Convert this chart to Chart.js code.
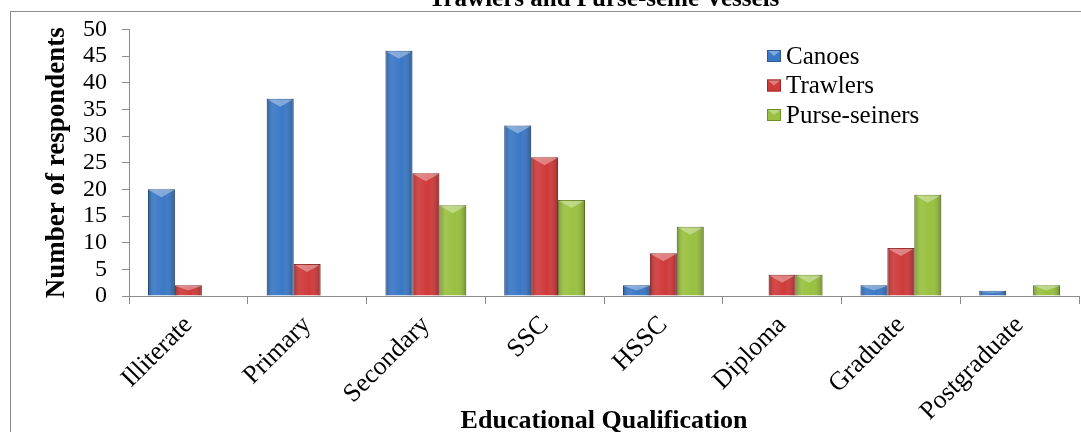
<!DOCTYPE html>
<html>
<head>
<meta charset="utf-8">
<script src="https://cdn.jsdelivr.net/npm/chart.js@4.4.1/dist/chart.umd.min.js"></script>
<style>
  html, body { margin: 0; padding: 0; background: #fff; overflow: hidden; }
  #frame { position: absolute; left: 10px; top: 11px; width: 1100px; height: 460px; border: 1px solid #8c8c8c; }
  #chart { position: absolute; left: 0; top: 0; }
</style>
</head>
<body>
<div id="frame"></div>
<canvas id="chart" width="1081" height="432"></canvas>
<script>
// values
const categories = ["Illiterate", "Primary", "Secondary", "SSC", "HSSC", "Diploma", "Graduate", "Postgraduate"];
const canoes = [20, 37, 46, 32, 2, 0, 2, 1];
const trawlers = [2, 6, 23, 26, 8, 4, 9, 0];
const purseSeiners = [0, 0, 17, 18, 13, 4, 19, 2];
const yTicks = [0, 5, 10, 15, 20, 25, 30, 35, 40, 45, 50];

const serif = "'Liberation Serif', 'Times New Roman', serif";
const axisGrey = "#8c8c8c";

// bevelled look of the bars (shading drawn over each bar element)
const bevelPlugin = {
  id: "bevel",
  afterDatasetsDraw(chart) {
    const ctx = chart.ctx;
    chart.data.datasets.forEach((ds, i) => {
      const meta = chart.getDatasetMeta(i);
      meta.data.forEach((bar) => {
        const { x, y, base, width } = bar.getProps(["x", "y", "base", "width"], true);
        const h = base - y;
        if (h < 1) return;
        const left = x - width / 2;
        const right = x + width / 2;
        ctx.save();
        let g = ctx.createLinearGradient(left, 0, right, 0);
        g.addColorStop(0, "rgba(0,0,0,0.22)");
        g.addColorStop(0.25, "rgba(255,255,255,0.08)");
        g.addColorStop(0.6, "rgba(255,255,255,0)");
        g.addColorStop(1, "rgba(0,0,0,0.25)");
        ctx.fillStyle = g;
        ctx.fillRect(left, y, width, h);
        const t = Math.min(8, h / 2);
        ctx.fillStyle = "rgba(255,255,255,0.35)";
        ctx.beginPath();
        ctx.moveTo(left + 1, y + 1);
        ctx.lineTo(right - 1, y + 1);
        ctx.lineTo(x, y + t);
        ctx.closePath();
        ctx.fill();
        ctx.restore();
      });
    });
  },
};

// legend in the upper right of the plot
const legendPlugin = {
  id: "boxLegend",
  afterDraw(chart) {
    const ctx = chart.ctx;
    ctx.save();
    ctx.font = "25px " + serif;
    ctx.textBaseline = "middle";
    chart.data.datasets.forEach((ds, i) => {
      const cy = 56 + i * 29.5;
      ctx.fillStyle = ds.backgroundColor;
      ctx.fillRect(767, cy - 6, 14, 12);
      ctx.strokeStyle = ds.borderColor;
      ctx.lineWidth = 1;
      ctx.strokeRect(767.5, cy - 5.5, 13, 11);
      ctx.fillStyle = "rgba(255,255,255,0.35)";
      ctx.beginPath();
      ctx.moveTo(768, cy - 5);
      ctx.lineTo(780, cy - 5);
      ctx.lineTo(774, cy);
      ctx.closePath();
      ctx.fill();
      ctx.fillStyle = "#000";
      ctx.fillText(ds.label, 786, cy + 1);
    });
    ctx.restore();
  },
};

new Chart(document.getElementById("chart"), {
  type: "bar",
  data: {
    labels: categories,
    datasets: [
      { label: "Canoes", data: canoes, backgroundColor: "#3a78c6", borderColor: "#2c5a94", borderWidth: 1 },
      { label: "Trawlers", data: trawlers, backgroundColor: "#cf3a3a", borderColor: "#9b2b2b", borderWidth: 1 },
      { label: "Purse-seiners", data: purseSeiners, backgroundColor: "#99c13f", borderColor: "#6f8e2a", borderWidth: 1 },
    ],
  },
  options: {
    responsive: false,
    animation: false,
    layout: { padding: { left: 0, right: 2, top: 0, bottom: 0 } },
    datasets: { bar: { categoryPercentage: 0.68, barPercentage: 1 } },
    plugins: {
      legend: { display: false },
      tooltip: { enabled: false },
      title: {
        display: true,
        text: "Trawlers and Purse-seine Vessels",
        fullSize: false,
        color: "#000",
        font: { family: serif, size: 25, weight: "bold" },
        padding: { top: -18, bottom: 15 },
      },
    },
    scales: {
      x: {
        grid: { drawOnChartArea: false, tickLength: 8, color: axisGrey, offset: true },
        border: { color: axisGrey },
        ticks: {
          color: "#000",
          font: { family: serif, size: 26 },
          minRotation: 45,
          maxRotation: 45,
          autoSkip: false,
          padding: 6,
        },
        title: {
          display: true,
          text: "Educational Qualification",
          color: "#000",
          font: { family: serif, size: 26, weight: "bold" },
          padding: { top: 0, bottom: -5 },
        },
        afterFit(scale) {
          scale.height = 136;
        },
      },
      y: {
        min: 0,
        max: 50,
        afterBuildTicks(scale) {
          scale.ticks = yTicks.map((v) => ({ value: v }));
        },
        ticks: { color: "#000", font: { family: serif, size: 24 }, padding: 15, autoSkip: false },
        grid: { drawOnChartArea: false, tickLength: 7, color: axisGrey },
        border: { color: axisGrey },
        title: {
          display: true,
          text: "Number of respondents",
          color: "#000",
          font: { family: serif, size: 27, weight: "bold" },
          padding: { top: 41, bottom: 0 },
        },
        afterFit(scale) {
          scale.width = 129;
        },
      },
    },
  },
  plugins: [bevelPlugin, legendPlugin],
});
</script>
</body>
</html>
